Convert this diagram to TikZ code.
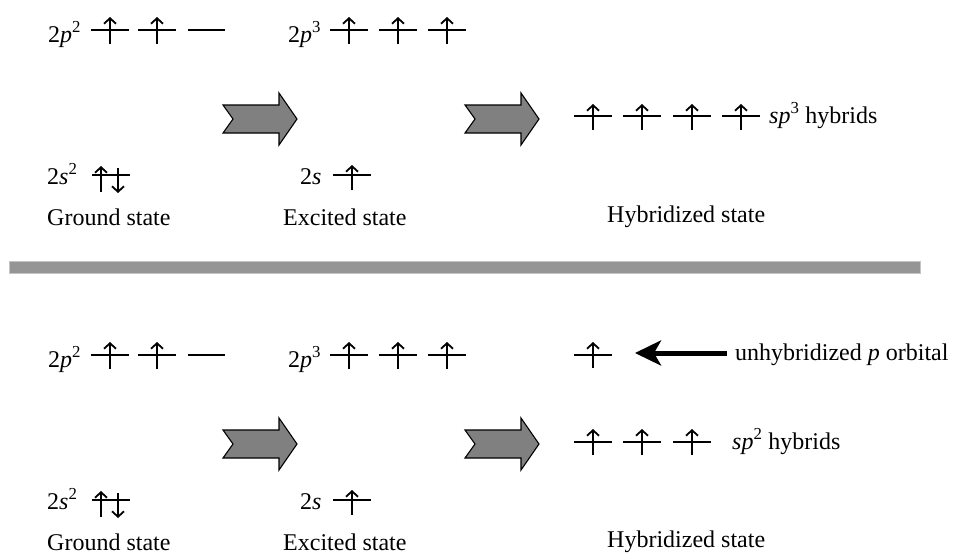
\documentclass[tikz,border=0pt]{standalone}
\usepackage{fontspec}
\setmainfont{Liberation Serif}
\usetikzlibrary{arrows.meta}
\definecolor{blockgray}{HTML}{808080}
\definecolor{bargray}{HTML}{959595}
\definecolor{baredge}{HTML}{C4C4C4}

\begin{document}
\begin{tikzpicture}[x=1pt,y=-1pt,
lbl/.style={inner sep=0pt,anchor=base west,font=\fontsize{24}{28}\selectfont},
level/.style={line width=1.5pt},
spin/.style={line width=1.8pt,-{Straight Barb[length=5.5pt,width=12pt]}},
fatarrow/.style={draw=black,line width=1.1pt,fill=blockgray,line join=miter},
pointer/.style={line width=5pt,-{Stealth[length=26pt,width=25pt,inset=7pt]}},
blockarrow/.pic={\draw[fatarrow] (0,-14) -- (56,-14) -- (56,-26) -- (74,0) -- (56,26) -- (56,14) -- (0,14) -- (10,0) -- cycle;}]
\useasboundingbox (0,0) rectangle (953,554);

% ground and excited states, same in both halves
\foreach \dy in {0,325} {
  \node[lbl] (gp\dy) at (48,42+\dy) {2\textit{p}\textsuperscript{2}};
  \foreach \cx in {110,157} {
    \draw[level] ({\cx-19},30+\dy) -- ({\cx+19},30+\dy);
    \draw[spin] (\cx,44+\dy) -- (\cx,17+\dy);
  }
  \draw[level] (188,30+\dy) -- (225,30+\dy);
  \node[lbl] (gs\dy) at (47,184+\dy) {2\textit{s}\textsuperscript{2}};
  \draw[level] (92,175+\dy) -- (130,175+\dy);
  \draw[spin] (101,192+\dy) -- (101,166+\dy);
  \draw[spin] (118,168+\dy) -- (118,193+\dy);
  \node[lbl] (gname\dy) at (47,225+\dy) {Ground state};
  \node[lbl] (ep\dy) at (288,42+\dy) {2\textit{p}\textsuperscript{3}};
  \foreach \cx in {349,398,447} {
    \draw[level] ({\cx-19},30+\dy) -- ({\cx+19},30+\dy);
    \draw[spin] (\cx,44+\dy) -- (\cx,17+\dy);
  }
  \node[lbl] (es\dy) at (300,184+\dy) {2\textit{s}};
  \draw[level] (333,175+\dy) -- (371,175+\dy);
  \draw[spin] (352,190+\dy) -- (352,165+\dy);
  \node[lbl] (ename\dy) at (283,225+\dy) {Excited state};
  \pic at (223,119+\dy) {blockarrow};
  \pic at (465,119+\dy) {blockarrow};
  \node[lbl] (hname\dy) at (607,222+\dy) {Hybridized state};
}

% sp3 half
\foreach \cx in {593,642,692,741} {
  \draw[level] ({\cx-19},116) -- ({\cx+19},116);
  \draw[spin] (\cx,130) -- (\cx,104);
}
\node[lbl] (hyb3) at (769,123) {\textit{sp}\textsuperscript{3} hybrids};

\fill[bargray,draw=baredge,line width=1pt] (9,261) rectangle (920,273);

% sp2 half
\draw[level] (574,355) -- (612,355);
\draw[spin] (593,368) -- (593,342);
\node[lbl] (unhyb) at (735,360) {unhybridized \textit{p} orbital};
\coordinate (ptail) at (727,353);
\coordinate (ptip) at (635,353);
\draw[pointer] (ptail) -- (ptip);
\foreach \cx in {593,642,692} {
  \draw[level] ({\cx-19},442) -- ({\cx+19},442);
  \draw[spin] (\cx,455) -- (\cx,429);
}
\node[lbl] (hyb2) at (732,449) {\textit{sp}\textsuperscript{2} hybrids};
\end{tikzpicture}
\end{document}
